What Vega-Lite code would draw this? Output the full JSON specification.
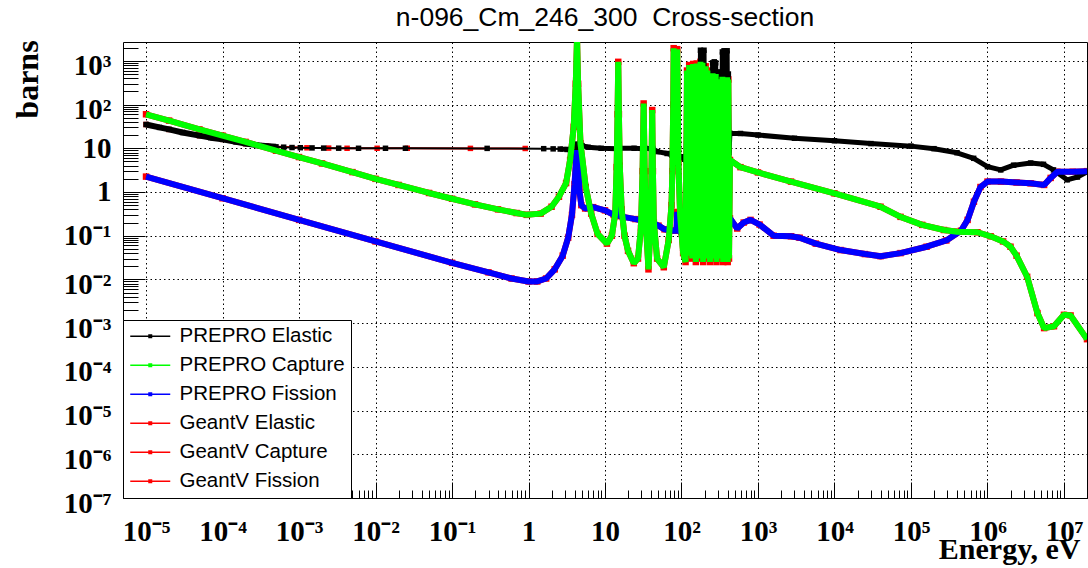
{
  "$schema": "https://vega.github.io/schema/vega-lite/v6.json",
  "width": 964,
  "height": 456,
  "autosize": {"type": "none"},
  "padding": {"left": 123, "top": 42, "right": 1, "bottom": 70},
  "background": "white",
  "config": {"view": {"stroke": "black", "strokeWidth": 1}},
  "title": {"text": "n-096_Cm_246_300\u00a0 Cross-section", "frame": "group", "anchor": "middle", "font": "Liberation Sans", "fontSize": 26.5, "fontWeight": "normal", "color": "black", "baseline": "alphabetic", "offset": 15, "dy": 29},
  "datasets": {
    "elastic": [
      {"energy": 1e-5, "sigma": 35}, {"energy": 1.5e-5, "sigma": 30}, {"energy": 2e-5, "sigma": 27}, {"energy": 3e-5, "sigma": 23}, {"energy": 5e-5, "sigma": 19.5}, {"energy": 7e-5, "sigma": 17.5}, {"energy": 1e-4, "sigma": 16}, {"energy": 1.5e-4, "sigma": 14}, {"energy": 2e-4, "sigma": 12.8}, {"energy": 3e-4, "sigma": 11.6}, {"energy": 4e-4, "sigma": 11.1}, {"energy": 5e-4, "sigma": 10.8},
      {"energy": 6.3e-4, "sigma": 10.6}, {"energy": 8.1e-4, "sigma": 10.4}, {"energy": 1.04e-3, "sigma": 10.3}, {"energy": 1.48e-3, "sigma": 10.2}, {"energy": 2.1e-3, "sigma": 10.1}, {"energy": 3.3e-3, "sigma": 10.05}, {"energy": 6e-3, "sigma": 10}, {"energy": 1.35e-2, "sigma": 10}, {"energy": 2.46e-2, "sigma": 10}, {"energy": 0.288, "sigma": 9.95}, {"energy": 1.58, "sigma": 9.8}, {"energy": 2.1, "sigma": 9.7},
      {"energy": 2.6, "sigma": 9.6}, {"energy": 3.2, "sigma": 9.4}, {"energy": 3.6, "sigma": 9.0}, {"energy": 3.9, "sigma": 8.4}, {"energy": 4.15, "sigma": 7}, {"energy": 4.25, "sigma": 6.5}, {"energy": 4.31, "sigma": 12}, {"energy": 4.4, "sigma": 12.5}, {"energy": 4.6, "sigma": 11.8}, {"energy": 5.0, "sigma": 11.5}, {"energy": 6.0, "sigma": 10.6}, {"energy": 8.9, "sigma": 10}, {"energy": 14.5, "sigma": 9.8}, {"energy": 14.8, "sigma": 9}, {"energy": 14.9, "sigma": 11}, {"energy": 15.1, "sigma": 10}, {"energy": 24, "sigma": 10}, {"energy": 31.5, "sigma": 9.8}, {"energy": 32.2, "sigma": 9.2}, {"energy": 32.4, "sigma": 10.5}, {"energy": 33, "sigma": 10}, {"energy": 40.5, "sigma": 9.8}, {"energy": 41.3, "sigma": 9.5}, {"energy": 41.5, "sigma": 10.3}, {"energy": 42, "sigma": 9.9}, {"energy": 48, "sigma": 8.4}, {"energy": 65, "sigma": 7.6}, {"energy": 75, "sigma": 7}, {"energy": 78, "sigma": 5}, {"energy": 79, "sigma": 40}, {"energy": 80, "sigma": 6}, {"energy": 84, "sigma": 6}, {"energy": 86, "sigma": 4.5}, {"energy": 88, "sigma": 50}, {"energy": 90, "sigma": 6.5}, {"energy": 100, "sigma": 6.4}, {"energy": 110, "sigma": 5.6}, {"energy": 115, "sigma": 5.4},
      {"energy": 118, "sigma": 150}, {"energy": 122, "sigma": 5}, {"energy": 126, "sigma": 250}, {"energy": 130, "sigma": 6}, {"energy": 134, "sigma": 100}, {"energy": 138, "sigma": 7}, {"energy": 142, "sigma": 300}, {"energy": 146, "sigma": 5}, {"energy": 150, "sigma": 200}, {"energy": 154, "sigma": 6}, {"energy": 158, "sigma": 350}, {"energy": 162, "sigma": 7}, {"energy": 166, "sigma": 300}, {"energy": 171, "sigma": 5}, {"energy": 177, "sigma": 1750}, {"energy": 182, "sigma": 6}, {"energy": 188, "sigma": 1700}, {"energy": 192, "sigma": 5}, {"energy": 197, "sigma": 1750}, {"energy": 202, "sigma": 6}, {"energy": 207, "sigma": 500}, {"energy": 212, "sigma": 7}, {"energy": 218, "sigma": 400}, {"energy": 224, "sigma": 5}, {"energy": 230, "sigma": 450}, {"energy": 236, "sigma": 6}, {"energy": 242, "sigma": 400}, {"energy": 248, "sigma": 7}, {"energy": 255, "sigma": 900}, {"energy": 261, "sigma": 5}, {"energy": 268, "sigma": 950}, {"energy": 274, "sigma": 6}, {"energy": 280, "sigma": 900}, {"energy": 287, "sigma": 7}, {"energy": 295, "sigma": 400}, {"energy": 302, "sigma": 5}, {"energy": 310, "sigma": 450}, {"energy": 317, "sigma": 6}, {"energy": 325, "sigma": 560}, {"energy": 333, "sigma": 7}, {"energy": 342, "sigma": 1600}, {"energy": 351, "sigma": 5}, {"energy": 360, "sigma": 1700}, {"energy": 369, "sigma": 6}, {"energy": 378, "sigma": 1650}, {"energy": 386, "sigma": 7}, {"energy": 395, "sigma": 1700}, {"energy": 402, "sigma": 5}, {"energy": 410, "sigma": 500}, {"energy": 418, "sigma": 8},
      {"energy": 430, "sigma": 22}, {"energy": 590, "sigma": 21.8}, {"energy": 1000, "sigma": 20.1}, {"energy": 3000, "sigma": 17}, {"energy": 1e4, "sigma": 14.9}, {"energy": 3e4, "sigma": 12.8}, {"energy": 1e5, "sigma": 11.2}, {"energy": 2e5, "sigma": 9.8}, {"energy": 4e5, "sigma": 7.9}, {"energy": 6.6e5, "sigma": 5.9}, {"energy": 1e6, "sigma": 3.8}, {"energy": 1.49e6, "sigma": 3.2}, {"energy": 2.2e6, "sigma": 4.1}, {"energy": 3.67e6, "sigma": 4.6}, {"energy": 5.4e6, "sigma": 4.3}, {"energy": 7.3e6, "sigma": 3.2}, {"energy": 1.1e7, "sigma": 1.9}, {"energy": 1.5e7, "sigma": 2.2}, {"energy": 2e7, "sigma": 2.9}
    ],
    "capture": [
      {"energy": 1e-5, "sigma": 60}, {"energy": 2e-5, "sigma": 43}, {"energy": 5e-5, "sigma": 27}, {"energy": 1e-4, "sigma": 19.5}, {"energy": 2e-4, "sigma": 14}, {"energy": 5e-4, "sigma": 8.8}, {"energy": 1e-3, "sigma": 6.3}, {"energy": 2e-3, "sigma": 4.5}, {"energy": 5e-3, "sigma": 2.85}, {"energy": 1e-2, "sigma": 2.0}, {"energy": 2e-2, "sigma": 1.45}, {"energy": 5e-2, "sigma": 0.95}, {"energy": 0.1, "sigma": 0.7}, {"energy": 0.2, "sigma": 0.52}, {"energy": 0.4, "sigma": 0.4}, {"energy": 0.7, "sigma": 0.33}, {"energy": 0.95, "sigma": 0.30}, {"energy": 1.44, "sigma": 0.32}, {"energy": 2.0, "sigma": 0.46}, {"energy": 2.5, "sigma": 0.78}, {"energy": 3.1, "sigma": 1.6}, {"energy": 3.5, "sigma": 5.4}, {"energy": 3.9, "sigma": 31}, {"energy": 4.15, "sigma": 300}, {"energy": 4.31, "sigma": 3500}, {"energy": 4.45, "sigma": 300}, {"energy": 4.78, "sigma": 13}, {"energy": 5.6, "sigma": 1.3}, {"energy": 6.6, "sigma": 0.32}, {"energy": 8.0, "sigma": 0.11}, {"energy": 10.6, "sigma": 0.066}, {"energy": 12.3, "sigma": 0.1}, {"energy": 13.6, "sigma": 0.32}, {"energy": 14.2, "sigma": 3.7}, {"energy": 14.6, "sigma": 60}, {"energy": 14.9, "sigma": 950}, {"energy": 15.2, "sigma": 60}, {"energy": 15.6, "sigma": 4}, {"energy": 16.5, "sigma": 0.4}, {"energy": 18, "sigma": 0.1}, {"energy": 20, "sigma": 0.045}, {"energy": 23.8, "sigma": 0.0235}, {"energy": 27, "sigma": 0.03}, {"energy": 29.5, "sigma": 0.15}, {"energy": 31, "sigma": 3}, {"energy": 32, "sigma": 106}, {"energy": 33, "sigma": 3}, {"energy": 34.5, "sigma": 0.15}, {"energy": 37, "sigma": 0.017}, {"energy": 39.5, "sigma": 0.2}, {"energy": 40.5, "sigma": 3}, {"energy": 41.4, "sigma": 75}, {"energy": 42.3, "sigma": 3}, {"energy": 43.5, "sigma": 0.2}, {"energy": 48, "sigma": 0.03}, {"energy": 58.7, "sigma": 0.019}, {"energy": 68, "sigma": 0.08}, {"energy": 74, "sigma": 0.5}, {"energy": 76, "sigma": 3}, {"energy": 78, "sigma": 100}, {"energy": 79, "sigma": 1950}, {"energy": 81, "sigma": 30}, {"energy": 84, "sigma": 30}, {"energy": 86, "sigma": 100}, {"energy": 88, "sigma": 1850}, {"energy": 91, "sigma": 5}, {"energy": 96, "sigma": 0.3}, {"energy": 105, "sigma": 0.04}, {"energy": 113, "sigma": 0.025},
      {"energy": 118, "sigma": 600}, {"energy": 122, "sigma": 0.035}, {"energy": 126, "sigma": 800}, {"energy": 130, "sigma": 0.05}, {"energy": 134, "sigma": 400}, {"energy": 138, "sigma": 0.03}, {"energy": 142, "sigma": 850}, {"energy": 146, "sigma": 0.06}, {"energy": 150, "sigma": 500}, {"energy": 154, "sigma": 0.025}, {"energy": 158, "sigma": 870}, {"energy": 162, "sigma": 0.04}, {"energy": 166, "sigma": 600}, {"energy": 171, "sigma": 0.03}, {"energy": 177, "sigma": 950}, {"energy": 182, "sigma": 0.05}, {"energy": 188, "sigma": 900}, {"energy": 192, "sigma": 0.025}, {"energy": 197, "sigma": 700}, {"energy": 202, "sigma": 0.04}, {"energy": 207, "sigma": 750}, {"energy": 212, "sigma": 0.03}, {"energy": 218, "sigma": 600}, {"energy": 224, "sigma": 0.06}, {"energy": 230, "sigma": 520}, {"energy": 236, "sigma": 0.025}, {"energy": 242, "sigma": 500}, {"energy": 248, "sigma": 0.035}, {"energy": 255, "sigma": 520}, {"energy": 261, "sigma": 0.03}, {"energy": 268, "sigma": 480}, {"energy": 274, "sigma": 0.05}, {"energy": 280, "sigma": 500}, {"energy": 287, "sigma": 0.025}, {"energy": 295, "sigma": 350}, {"energy": 302, "sigma": 0.04}, {"energy": 310, "sigma": 360}, {"energy": 317, "sigma": 0.03}, {"energy": 325, "sigma": 380}, {"energy": 333, "sigma": 0.05}, {"energy": 342, "sigma": 430}, {"energy": 351, "sigma": 0.025}, {"energy": 360, "sigma": 400}, {"energy": 369, "sigma": 0.03}, {"energy": 378, "sigma": 380}, {"energy": 386, "sigma": 0.04}, {"energy": 395, "sigma": 420}, {"energy": 402, "sigma": 0.025}, {"energy": 410, "sigma": 375}, {"energy": 418, "sigma": 0.03},
      {"energy": 430, "sigma": 5.4}, {"energy": 590, "sigma": 3.7}, {"energy": 1000, "sigma": 2.8}, {"energy": 2700, "sigma": 1.73}, {"energy": 1e4, "sigma": 0.93}, {"energy": 4e4, "sigma": 0.46}, {"energy": 7.3e4, "sigma": 0.27}, {"energy": 1.4e5, "sigma": 0.177}, {"energy": 2.7e5, "sigma": 0.135}, {"energy": 4e5, "sigma": 0.123}, {"energy": 7.4e5, "sigma": 0.12}, {"energy": 1.1e6, "sigma": 0.097}, {"energy": 1.6e6, "sigma": 0.074}, {"energy": 2.0e6, "sigma": 0.056}, {"energy": 2.4e6, "sigma": 0.035}, {"energy": 3.3e6, "sigma": 0.0115}, {"energy": 4.5e6, "sigma": 0.0017}, {"energy": 5.5e6, "sigma": 0.00077}, {"energy": 7.4e6, "sigma": 0.00085}, {"energy": 1.0e7, "sigma": 0.00155}, {"energy": 1.22e7, "sigma": 0.0015}, {"energy": 2e7, "sigma": 0.00043}
    ],
    "fission": [
      {"energy": 1e-5, "sigma": 2.25}, {"energy": 1e-4, "sigma": 0.72}, {"energy": 1e-3, "sigma": 0.23}, {"energy": 1e-2, "sigma": 0.074}, {"energy": 0.1, "sigma": 0.024}, {"energy": 0.3, "sigma": 0.0145}, {"energy": 0.6, "sigma": 0.0105}, {"energy": 1.0, "sigma": 0.009}, {"energy": 1.3, "sigma": 0.009}, {"energy": 1.7, "sigma": 0.0105}, {"energy": 2.2, "sigma": 0.017}, {"energy": 2.8, "sigma": 0.035}, {"energy": 3.3, "sigma": 0.09}, {"energy": 3.7, "sigma": 0.3}, {"energy": 4.0, "sigma": 1.5}, {"energy": 4.2, "sigma": 6}, {"energy": 4.31, "sigma": 9}, {"energy": 4.45, "sigma": 5}, {"energy": 4.6, "sigma": 1.2}, {"energy": 4.9, "sigma": 0.5}, {"energy": 5.5, "sigma": 0.42}, {"energy": 7, "sigma": 0.45}, {"energy": 10, "sigma": 0.38}, {"energy": 13, "sigma": 0.3}, {"energy": 14.5, "sigma": 0.3}, {"energy": 14.9, "sigma": 0.45}, {"energy": 15.3, "sigma": 0.28}, {"energy": 25, "sigma": 0.24}, {"energy": 32, "sigma": 0.22}, {"energy": 41, "sigma": 0.2}, {"energy": 50, "sigma": 0.17}, {"energy": 60, "sigma": 0.14}, {"energy": 79, "sigma": 0.13}, {"energy": 86, "sigma": 0.13}, {"energy": 88, "sigma": 0.35}, {"energy": 90, "sigma": 0.13}, {"energy": 100, "sigma": 0.12},
      {"energy": 118, "sigma": 0.6}, {"energy": 122, "sigma": 0.12}, {"energy": 126, "sigma": 0.8}, {"energy": 130, "sigma": 0.12}, {"energy": 134, "sigma": 0.5}, {"energy": 138, "sigma": 0.12}, {"energy": 142, "sigma": 1.0}, {"energy": 146, "sigma": 0.12}, {"energy": 150, "sigma": 0.4}, {"energy": 154, "sigma": 0.12}, {"energy": 158, "sigma": 0.9}, {"energy": 162, "sigma": 0.12}, {"energy": 166, "sigma": 0.5}, {"energy": 171, "sigma": 0.12}, {"energy": 177, "sigma": 1.2}, {"energy": 182, "sigma": 0.13}, {"energy": 188, "sigma": 1.0}, {"energy": 192, "sigma": 0.13}, {"energy": 197, "sigma": 0.8}, {"energy": 202, "sigma": 0.14}, {"energy": 207, "sigma": 0.7}, {"energy": 212, "sigma": 0.14}, {"energy": 218, "sigma": 0.6}, {"energy": 224, "sigma": 0.15}, {"energy": 230, "sigma": 0.5}, {"energy": 236, "sigma": 0.15}, {"energy": 242, "sigma": 0.6}, {"energy": 248, "sigma": 0.16}, {"energy": 255, "sigma": 0.5}, {"energy": 261, "sigma": 0.16}, {"energy": 268, "sigma": 0.7}, {"energy": 274, "sigma": 0.17}, {"energy": 280, "sigma": 0.5}, {"energy": 287, "sigma": 0.17}, {"energy": 295, "sigma": 0.4}, {"energy": 302, "sigma": 0.18}, {"energy": 310, "sigma": 0.5}, {"energy": 317, "sigma": 0.18}, {"energy": 325, "sigma": 0.6}, {"energy": 333, "sigma": 0.19}, {"energy": 342, "sigma": 0.5}, {"energy": 351, "sigma": 0.19}, {"energy": 360, "sigma": 0.7}, {"energy": 369, "sigma": 0.2}, {"energy": 378, "sigma": 0.5}, {"energy": 386, "sigma": 0.2}, {"energy": 395, "sigma": 0.6}, {"energy": 402, "sigma": 0.2}, {"energy": 410, "sigma": 0.5}, {"energy": 418, "sigma": 0.22},
      {"energy": 430, "sigma": 0.25}, {"energy": 535, "sigma": 0.146}, {"energy": 650, "sigma": 0.2}, {"energy": 800, "sigma": 0.23}, {"energy": 1050, "sigma": 0.18}, {"energy": 1600, "sigma": 0.1}, {"energy": 2700, "sigma": 0.097}, {"energy": 3500, "sigma": 0.09}, {"energy": 5700, "sigma": 0.066}, {"energy": 1.2e4, "sigma": 0.047}, {"energy": 2.5e4, "sigma": 0.038}, {"energy": 4e4, "sigma": 0.034}, {"energy": 7.3e4, "sigma": 0.04}, {"energy": 1.6e5, "sigma": 0.056}, {"energy": 2.9e5, "sigma": 0.078}, {"energy": 4.5e5, "sigma": 0.13}, {"energy": 5.5e5, "sigma": 0.23}, {"energy": 6.65e5, "sigma": 0.6}, {"energy": 8.1e5, "sigma": 1.3}, {"energy": 1e6, "sigma": 1.73}, {"energy": 1.5e6, "sigma": 1.73}, {"energy": 2.4e6, "sigma": 1.65}, {"energy": 3.66e6, "sigma": 1.58}, {"energy": 5.5e6, "sigma": 1.45}, {"energy": 6.7e6, "sigma": 2.1}, {"energy": 8.2e6, "sigma": 2.9}, {"energy": 1.3e7, "sigma": 2.9}, {"energy": 2e7, "sigma": 3.0}
    ],
    "geantv_elastic": [
      {"energy": 1e-5, "sigma": 35}, {"energy": 2e-5, "sigma": 27}, {"energy": 5e-5, "sigma": 19.5}, {"energy": 1e-4, "sigma": 16}, {"energy": 2e-4, "sigma": 12.8}, {"energy": 3.8e-4, "sigma": 11.2}, {"energy": 1.27e-3, "sigma": 10.25}, {"energy": 2.44e-3, "sigma": 10.1}, {"energy": 4.25e-3, "sigma": 10}, {"energy": 1.05e-2, "sigma": 10}, {"energy": 2.6e-2, "sigma": 10}, {"energy": 0.174, "sigma": 9.95}, {"energy": 0.906, "sigma": 9.9}
    ]
  },
  "encoding": {
    "x": {
      "field": "energy", "type": "quantitative",
      "scale": {"type": "log", "domain": [5e-6, 2e7], "nice": false},
      "axis": {
        "values": [6e-6, 7e-6, 8e-6, 9e-6, 1e-5, 2e-5, 3e-5, 4e-5, 5e-5, 6e-5, 7e-5, 8e-5, 9e-5, 1e-4, 2e-4, 3e-4, 4e-4, 5e-4, 6e-4, 7e-4, 8e-4, 9e-4, 1e-3, 2e-3, 3e-3, 4e-3, 5e-3, 6e-3, 7e-3, 8e-3, 9e-3, 0.01, 0.02, 0.03, 0.04, 0.05, 0.06, 0.07, 0.08, 0.09, 0.1, 0.2, 0.3, 0.4, 0.5, 0.6, 0.7, 0.8, 0.9, 1, 2, 3, 4, 5, 6, 7, 8, 9, 10, 20, 30, 40, 50, 60, 70, 80, 90, 100, 200, 300, 400, 500, 600, 700, 800, 900, 1000, 2000, 3000, 4000, 5000, 6000, 7000, 8000, 9000, 1e4, 2e4, 3e4, 4e4, 5e4, 6e4, 7e4, 8e4, 9e4, 1e5, 2e5, 3e5, 4e5, 5e5, 6e5, 7e5, 8e5, 9e5, 1e6, 2e6, 3e6, 4e6, 5e6, 6e6, 7e6, 8e6, 9e6, 1e7, 2e7],
        "labelExpr": "abs(log(datum.value)/LN10 - round(log(datum.value)/LN10)) > 0.001 ? '' : round(log(datum.value)/LN10) == 0 ? '1' : round(log(datum.value)/LN10) == 1 ? '10' : '10' + (datum.value < 1 ? '⁻' : '') + substring('⁰¹²³⁴⁵⁶⁷⁸⁹', abs(round(log(datum.value)/LN10)), abs(round(log(datum.value)/LN10)) + 1)",
        "labelOverlap": false, "labelFlush": false, "labelBound": false,
        "labelFont": "Liberation Serif", "labelFontWeight": "bold", "labelFontSize": 29, "labelColor": "black",
        "labelBaseline": "alphabetic", "labelPadding": 58,
        "tickSize": {"condition": {"test": "abs(log(datum.value)/LN10 - round(log(datum.value)/LN10)) < 0.001", "value": -16}, "value": -8},
        "tickColor": "black", "tickWidth": 1,
        "grid": true, "gridColor": "black", "gridDash": [1.5, 3], "gridWidth": 1,
        "gridOpacity": {"condition": {"test": "abs(log(datum.value)/LN10 - round(log(datum.value)/LN10)) < 0.001", "value": 1}, "value": 0},
        "domain": false,
        "title": "Energy, eV", "titleFont": "Liberation Serif", "titleFontWeight": "bold", "titleFontSize": 30, "titleColor": "black",
        "titleAlign": "right", "titleBaseline": "alphabetic", "titleX": 957, "titleY": 60
      }
    },
    "y": {
      "field": "sigma", "type": "quantitative",
      "scale": {"type": "log", "domain": [1e-7, 2700], "nice": false},
      "axis": {
        "values": [1e-7, 2e-7, 3e-7, 4e-7, 5e-7, 6e-7, 7e-7, 8e-7, 9e-7, 1e-6, 2e-6, 3e-6, 4e-6, 5e-6, 6e-6, 7e-6, 8e-6, 9e-6, 1e-5, 2e-5, 3e-5, 4e-5, 5e-5, 6e-5, 7e-5, 8e-5, 9e-5, 1e-4, 2e-4, 3e-4, 4e-4, 5e-4, 6e-4, 7e-4, 8e-4, 9e-4, 1e-3, 2e-3, 3e-3, 4e-3, 5e-3, 6e-3, 7e-3, 8e-3, 9e-3, 0.01, 0.02, 0.03, 0.04, 0.05, 0.06, 0.07, 0.08, 0.09, 0.1, 0.2, 0.3, 0.4, 0.5, 0.6, 0.7, 0.8, 0.9, 1, 2, 3, 4, 5, 6, 7, 8, 9, 10, 20, 30, 40, 50, 60, 70, 80, 90, 100, 200, 300, 400, 500, 600, 700, 800, 900, 1000, 2000],
        "labelExpr": "abs(log(datum.value)/LN10 - round(log(datum.value)/LN10)) > 0.001 ? '' : round(log(datum.value)/LN10) == 0 ? '1' : round(log(datum.value)/LN10) == 1 ? '10' : '10' + (datum.value < 1 ? '⁻' : '') + substring('⁰¹²³⁴⁵⁶⁷⁸⁹', abs(round(log(datum.value)/LN10)), abs(round(log(datum.value)/LN10)) + 1)",
        "labelOverlap": false, "labelFlush": false, "labelBound": false,
        "labelFont": "Liberation Serif", "labelFontWeight": "bold", "labelFontSize": 29, "labelColor": "black",
        "labelBaseline": "middle", "labelAlign": "right", "labelPadding": 34,
        "labelOffset": {"condition": {"test": "abs(round(log(datum.value)/LN10)) >= 2", "value": 5}, "value": 0},
        "tickSize": {"condition": {"test": "abs(log(datum.value)/LN10 - round(log(datum.value)/LN10)) < 0.001", "value": -22}, "value": -15},
        "tickColor": "black", "tickWidth": 1,
        "grid": true, "gridColor": "black", "gridDash": [1.5, 3], "gridWidth": 1,
        "gridOpacity": {"condition": {"test": "abs(log(datum.value)/LN10 - round(log(datum.value)/LN10)) < 0.001", "value": 1}, "value": 0},
        "domain": false,
        "title": "barns", "titleFont": "Liberation Serif", "titleFontWeight": "bold", "titleFontSize": 32, "titleColor": "black",
        "titleAngle": 270, "titleAlign": "center", "titleBaseline": "alphabetic", "titleX": -86, "titleY": 37
      }
    }
  },
  "layer": [
    {
      "data": {"name": "geantv_elastic"},
      "mark": {"type": "line", "strokeWidth": 2, "clip": true, "strokeJoin": "bevel", "point": {"shape": "square", "filled": true, "size": 30, "clip": true}},
      "encoding": {
        "color": {
          "datum": "GeantV Elastic", "type": "nominal",
          "scale": {"domain": ["PREPRO Elastic", "PREPRO Capture", "PREPRO Fission", "GeantV Elastic", "GeantV Capture", "GeantV Fission"], "range": ["#000000", "#00ff00", "#0000ff", "#ff0000", "#ff0000", "#ff0000"]},
          "legend": {
            "title": null, "orient": "bottom-left", "offset": 0, "padding": 6,
            "strokeColor": "black", "fillColor": "white",
            "symbolType": "M-4,0H4M-0.25,-0.25H0.25V0.25H-0.25Z", "symbolSize": 100, "symbolStrokeWidth": 1.5, "symbolOffset": 11,
            "labelFont": "Liberation Sans", "labelFontSize": 20.5, "labelColor": "black", "labelOffset": 19, "labelLimit": 300,
            "rowPadding": 8,
            "encode": {"symbols": {"update": {"fill": {"scale": "color", "field": "value"}, "stroke": {"scale": "color", "field": "value"}}}}
          }
        }
      }
    },
    {
      "data": {"name": "capture"},
      "mark": {"type": "line", "strokeWidth": 6, "clip": true, "strokeJoin": "bevel", "point": {"shape": "square", "filled": true, "size": 42, "clip": true}},
      "encoding": {"color": {"datum": "GeantV Capture", "type": "nominal"}}
    },
    {
      "data": {"name": "fission"},
      "mark": {"type": "line", "strokeWidth": 6, "clip": true, "strokeJoin": "bevel", "point": {"shape": "square", "filled": true, "size": 42, "clip": true}},
      "encoding": {"color": {"datum": "GeantV Fission", "type": "nominal"}}
    },
    {
      "data": {"name": "elastic"},
      "mark": {"type": "line", "strokeWidth": 2, "clip": true, "strokeJoin": "bevel", "point": {"shape": "square", "filled": true, "size": 30, "clip": true}},
      "encoding": {"color": {"datum": "PREPRO Elastic", "type": "nominal"}}
    },
    {
      "data": {"name": "elastic"},
      "transform": [{"filter": "datum.energy <= 5e-4"}],
      "mark": {"type": "line", "strokeWidth": 6, "clip": true, "strokeJoin": "bevel"},
      "encoding": {"color": {"datum": "PREPRO Elastic", "type": "nominal"}}
    },
    {
      "data": {"name": "elastic"},
      "transform": [{"filter": "datum.energy >= 2.6"}],
      "mark": {"type": "line", "strokeWidth": 5, "clip": true, "strokeJoin": "bevel"},
      "encoding": {"color": {"datum": "PREPRO Elastic", "type": "nominal"}}
    },
    {
      "data": {"name": "fission"},
      "mark": {"type": "line", "strokeWidth": 6, "clip": true, "strokeJoin": "bevel"},
      "encoding": {"color": {"datum": "PREPRO Fission", "type": "nominal"}}
    },
    {
      "data": {"name": "capture"},
      "mark": {"type": "line", "strokeWidth": 6, "clip": true, "strokeJoin": "bevel"},
      "encoding": {"color": {"datum": "PREPRO Capture", "type": "nominal"}}
    }
  ]
}
